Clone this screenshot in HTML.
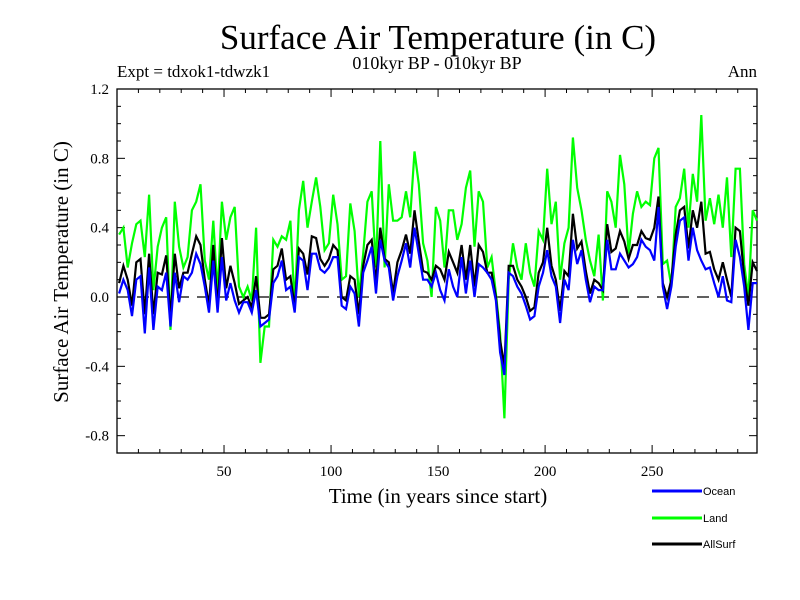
<!DOCTYPE html>
<html><head><meta charset="utf-8"><style>
body{margin:0;background:#fff;}
svg{display:block;font-family:"Liberation Serif",serif;}
</style></head><body>
<svg id="chart" width="800" height="600" viewBox="0 0 800 600">
<rect width="800" height="600" fill="#fff"/>
<text x="438" y="49" font-size="35" text-anchor="middle">Surface Air Temperature (in C)</text>
<text x="437" y="69" font-size="18" text-anchor="middle">010kyr BP - 010kyr BP</text>
<text x="117" y="77" font-size="17">Expt = tdxok1-tdwzk1</text>
<text x="757" y="77" font-size="17" text-anchor="end">Ann</text>
<text transform="translate(68,272) rotate(-90)" font-size="21" text-anchor="middle">Surface Air Temperature (in C)</text>
<text x="438" y="503" font-size="21" text-anchor="middle">Time (in years since start)</text>
<g id="axes"></g>
<g id="series"></g>
<g font-family="Liberation Sans, sans-serif" font-size="11">
<line x1="652" y1="491" x2="702" y2="491" stroke="#0000ff" stroke-width="3"/>
<text x="703" y="495">Ocean</text>
<line x1="652" y1="518" x2="702" y2="518" stroke="#00ff00" stroke-width="3"/>
<text x="703" y="522">Land</text>
<line x1="652" y1="544" x2="702" y2="544" stroke="#000" stroke-width="3"/>
<text x="703" y="548">AllSurf</text>
</g>
</svg>
<script>
const yTicks=[1.2,0.8,0.4,0.0,-0.4,-0.8];
const yTickLabels=["1.2","0.8","0.4","0.0","-0.4","-0.8"];
const xTicks=[50,100,150,200,250];
const land=[0.36,0.40,0.17,0.31,0.42,0.44,0.23,0.59,0.04,0.29,0.40,0.46,-0.19,0.55,0.29,0.17,0.23,0.50,0.55,0.65,0.21,0.10,0.44,0.02,0.55,0.33,0.46,0.52,0.06,0.0,0.06,-0.02,0.40,-0.38,-0.17,-0.17,0.33,0.29,
0.35,0.33,0.44,-0.05,0.50,0.67,0.40,0.55,0.69,0.52,0.27,0.31,0.59,0.42,0.10,0.12,0.54,0.38,0.0,0.25,0.55,0.61,0.17,0.90,0.17,0.65,0.44,0.44,0.46,0.61,0.46,0.84,0.65,0.31,0.21,0.0,0.52,
0.44,0.17,0.50,0.50,0.33,0.42,0.63,0.73,0.29,0.61,0.55,0.17,0.23,0.02,-0.21,-0.70,0.10,0.31,0.17,0.10,0.31,0.14,0.06,0.38,0.33,0.74,0.42,0.55,0.10,0.31,0.40,0.92,0.63,0.50,0.33,0.21,0.12,0.36,
-0.02,0.61,0.55,0.40,0.82,0.65,0.25,0.48,0.61,0.52,0.55,0.53,0.80,0.86,0.19,0.21,0.06,0.52,0.57,0.74,0.40,0.71,0.55,1.05,0.44,0.57,0.42,0.59,0.40,0.69,0.23,0.74,0.74,0.19,0.0,0.50,0.44,0.46];
const ocean=[0.02,0.10,0.04,-0.11,0.10,0.12,-0.21,0.17,-0.19,0.06,0.04,0.14,-0.17,0.14,-0.03,0.12,0.10,0.14,0.25,0.19,0.06,-0.09,0.21,-0.09,0.23,-0.02,0.08,-0.02,-0.09,-0.03,-0.03,-0.09,0.04,-0.17,-0.15,-0.13,0.08,0.12,
0.21,0.04,0.06,-0.09,0.23,0.21,0.04,0.25,0.25,0.16,0.14,0.17,0.23,0.23,-0.05,-0.07,0.06,0.02,-0.17,0.14,0.21,0.29,0.02,0.33,0.21,0.17,-0.02,0.12,0.21,0.31,0.17,0.40,0.25,0.10,0.10,0.06,0.14,
0.04,-0.02,0.16,0.06,0.0,0.23,0.02,0.21,0.0,0.19,0.17,0.14,0.10,-0.02,-0.32,-0.45,0.14,0.12,0.06,0.02,-0.05,-0.13,-0.11,0.06,0.14,0.27,0.12,0.06,-0.15,0.10,0.04,0.33,0.19,0.27,0.10,-0.03,0.06,0.04,
0.04,0.33,0.16,0.16,0.25,0.21,0.17,0.19,0.23,0.33,0.29,0.27,0.21,0.52,0.06,-0.07,0.06,0.29,0.44,0.46,0.21,0.40,0.27,0.21,0.16,0.17,0.08,0.0,0.12,-0.02,-0.03,0.33,0.23,0.06,-0.19,0.08,0.08,0.10];
const allSurf=[0.08,0.18,0.10,-0.05,0.20,0.22,-0.10,0.25,-0.10,0.14,0.13,0.24,-0.12,0.25,0.05,0.14,0.14,0.25,0.35,0.30,0.10,-0.05,0.30,-0.06,0.34,0.05,0.18,0.08,-0.04,-0.02,0.0,-0.06,0.12,-0.12,-0.12,-0.10,0.16,0.18,
0.28,0.10,0.12,-0.06,0.28,0.25,0.13,0.35,0.34,0.22,0.18,0.22,0.30,0.27,0.0,-0.02,0.12,0.10,-0.10,0.18,0.30,0.33,0.08,0.40,0.22,0.20,0.02,0.20,0.27,0.36,0.25,0.50,0.32,0.15,0.14,0.10,0.18,
0.16,0.10,0.26,0.20,0.14,0.30,0.10,0.30,0.06,0.30,0.26,0.14,0.14,0.0,-0.25,-0.40,0.18,0.18,0.10,0.06,0.0,-0.08,-0.06,0.14,0.20,0.40,0.18,0.10,-0.08,0.15,0.12,0.48,0.28,0.32,0.15,0.02,0.10,0.08,
0.04,0.42,0.26,0.28,0.38,0.32,0.22,0.30,0.30,0.38,0.34,0.33,0.40,0.58,0.08,0.0,0.10,0.36,0.50,0.52,0.28,0.50,0.40,0.55,0.25,0.26,0.16,0.10,0.20,0.10,0.0,0.40,0.38,0.12,-0.05,0.20,0.15,0.22];
const years=[];for(let i=0;i<150;i++)years.push(1+2*i);

const NS="http://www.w3.org/2000/svg";
const L=117,R=757,T=89,B=453,X0=0,X1=299,Y0=-0.9,Y1=1.2;
function xs(v){return L+(v-X0)/(X1-X0)*(R-L);}
function ys(v){return B-(v-Y0)/(Y1-Y0)*(B-T);}
function mk(tag,attrs,parent){const e=document.createElementNS(NS,tag);for(const k in attrs)e.setAttribute(k,attrs[k]);parent.appendChild(e);return e;}
const ax=document.getElementById('axes');
const frame=mk('rect',{x:L,y:T,width:R-L,height:B-T,fill:'none',stroke:'#000','stroke-width':1.3},ax);


for(let k=-9;k<=12;k++){const v=k/10,y=ys(v),major=(k%4===0);const len=major?8:4;
 mk('line',{x1:L,y1:y,x2:L+len,y2:y,stroke:'#000','stroke-width':1},ax);
 mk('line',{x1:R,y1:y,x2:R-len,y2:y,stroke:'#000','stroke-width':1},ax);}
yTicks.forEach((v,i)=>{const t=mk('text',{x:L-8,y:ys(v)+5,'font-size':15,'text-anchor':'end'},ax);t.textContent=yTickLabels[i];
 
 });
for(let k=10;k<=290;k+=10){const x=xs(k),len=(k%50===0)?8:4;
 mk('line',{x1:x,y1:B,x2:x,y2:B-len,stroke:'#000','stroke-width':1},ax);
 mk('line',{x1:x,y1:T,x2:x,y2:T+len,stroke:'#000','stroke-width':1},ax);}
xTicks.forEach(v=>{const t=mk('text',{x:xs(v),y:B+23,'font-size':15,'text-anchor':'middle'},ax);t.textContent=String(v);
 
 });
const zl=mk('line',{x1:L,y1:ys(0),x2:R,y2:ys(0),stroke:'#000','stroke-width':1.2,'stroke-dasharray':'12,8'},ax);


const sg=document.getElementById('series');
function draw(vals,color,name){const d=vals.map((v,i)=>(i?'L':'M')+xs(years[i]).toFixed(1)+','+ys(v).toFixed(1)).join('');
 const p=mk('path',{d:d,fill:'none',stroke:color,'stroke-width':2.2,'stroke-linejoin':'miter'},sg);
 
 }
draw(land,'#00ff00','land-line');
draw(allSurf,'#000000','allsurf-line');
draw(ocean,'#0000ff','ocean-line');
</script>
</body></html>
